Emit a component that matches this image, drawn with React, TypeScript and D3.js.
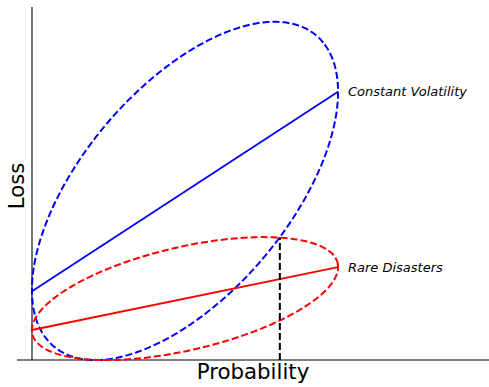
import React from 'react';
import * as d3 from 'd3';

// line end points (x in probability units, y in loss units)
const lineX = [0, 1];
const volatilityY = [0.195, 0.76];
const disasterY = [0.085, 0.263];

// ellipses: [constant volatility, rare disasters]
const ellipseCX = [0.5, 0.5];
const ellipseCY = [0.479, 0.174];
const ellipseA = [0.617, 0.509];
const ellipseB = [0.315, 0.147];
const ellipseAngle = [42.9, 11.05];
const ellipseColors = ['#0000ff', '#ff0000'];

// dashed marker
const markerX = 0.81;
const markerY = [0, 0.348];

const labels = ['Constant Volatility', 'Rare Disasters'];

const W = 489;
const H = 387;

const App = () => {
  const x = d3.scaleLinear().domain([-0.049, 1.4935]).range([17, 489]);
  const y = d3.scaleLinear().domain([0, 1]).range([360, 7]);

  const line = d3
    .line<[number, number]>()
    .x((d) => x(d[0]))
    .y((d) => y(d[1]));

  const ellipsePath = (i: number) => {
    const th = (ellipseAngle[i] * Math.PI) / 180;
    const pts: [number, number][] = d3.range(0, 361, 2).map((deg) => {
      const t = (deg * Math.PI) / 180;
      const ex = ellipseA[i] * Math.cos(t);
      const ey = ellipseB[i] * Math.sin(t);
      return [
        ellipseCX[i] + ex * Math.cos(th) - ey * Math.sin(th),
        ellipseCY[i] + ex * Math.sin(th) + ey * Math.cos(th),
      ];
    });
    return line(pts) as string;
  };

  const series = [volatilityY, disasterY];

  return (
    <svg
      width={W}
      height={H}
      style={{ position: 'absolute', left: 0, top: 0, background: '#fff' }}
      fontFamily="DejaVu Sans"
    >
      {/* spines */}
      <line x1={x(0)} x2={x(0)} y1={y(0)} y2={y(1)} stroke="#000" strokeWidth={1.1} />
      <line x1={17} x2={489} y1={y(0)} y2={y(0)} stroke="#000" strokeWidth={1.1} />

      {series.map((s, i) => (
        <path
          key={'e' + i}
          d={ellipsePath(i)}
          fill="none"
          stroke={ellipseColors[i]}
          strokeWidth={2}
          strokeDasharray="7,3"
        />
      ))}

      {series.map((s, i) => (
        <path
          key={'l' + i}
          d={line(lineX.map((v, j) => [v, s[j]] as [number, number])) as string}
          fill="none"
          stroke={ellipseColors[i]}
          strokeWidth={1.8}
        />
      ))}

      <line
        x1={x(markerX)}
        x2={x(markerX)}
        y1={y(markerY[0])}
        y2={y(markerY[1])}
        stroke="#000"
        strokeWidth={2}
        strokeDasharray="7,3"
      />

      {series.map((s, i) => (
        <text
          key={'t' + i}
          x={x(lineX[1]) + 10}
          y={y(s[1])}
          dominantBaseline="central"
          fontStyle="italic"
          fontSize={13}
          fill="#000"
        >
          {labels[i]}
        </text>
      ))}

      <text x={253} y={379} textAnchor="middle" fontSize={21.3}>
        Probability
      </text>
      <text transform="translate(24,186) rotate(-90)" textAnchor="middle" fontSize={21.3}>
        Loss
      </text>
    </svg>
  );
};

export default App;
